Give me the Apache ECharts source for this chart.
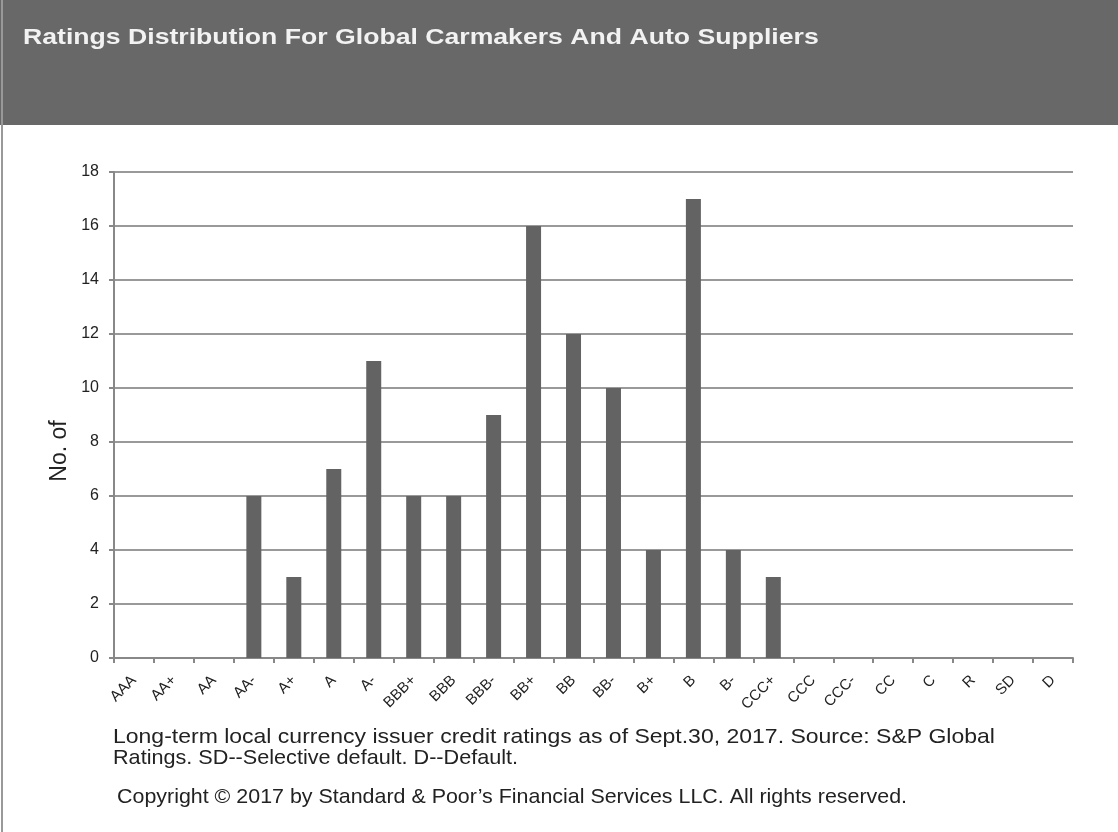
<!DOCTYPE html>
<html>
<head>
<meta charset="utf-8">
<script src="https://cdn.jsdelivr.net/npm/echarts@6/dist/echarts.min.js"></script>
<style>
html,body{margin:0;padding:0;background:#fff;}
#chart{width:1118px;height:832px;}
</style>
</head>
<body>
<div id="chart"></div>
<script>
const categories = ['AAA','AA+','AA','AA-','A+','A','A-','BBB+','BBB','BBB-','BB+','BB','BB-','B+','B','B-','CCC+','CCC','CCC-','CC','C','R','SD','D'];
const counts = [0,0,0,6,3,7,11,6,6,9,16,12,10,4,17,4,3,0,0,0,0,0,0,0];
const yTicks = {min:0, max:18, interval:2};
const titleText = 'Ratings Distribution For Global Carmakers And Auto Suppliers';
const yAxisName = 'No. of';
const noteLine1 = 'Long-term local currency issuer credit ratings as of Sept.30, 2017. Source: S&P Global';
const noteLine2 = 'Ratings. SD--Selective default. D--Default.';
const copyrightText = 'Copyright \u00A9 2017 by Standard & Poor\u2019s Financial Services LLC. All rights reserved.';

const chart = echarts.init(document.getElementById('chart'));
const font = 'Liberation Sans, Arial, sans-serif';
chart.setOption({
  backgroundColor:'#fff',
  animation:false,
  graphic:[
    {type:'rect', shape:{x:0,y:0,width:1118,height:125}, style:{fill:'#686868'}, z:0},
    {type:'line', shape:{x1:2,y1:0,x2:2,y2:832}, style:{stroke:'#999',lineWidth:2}, z:1},
    {type:'text', x:23, y:27, scaleX:1.21, style:{text:titleText, fill:'#f2f2f2', font:'bold 22px '+font}},
    {type:'text', x:113, y:727, scaleX:1.095, style:{text:noteLine1, fill:'#222', font:'21px '+font}},
    {type:'text', x:113, y:748, scaleX:1.03, style:{text:noteLine2, fill:'#222', font:'21px '+font}},
    {type:'text', x:117, y:787, scaleX:1.02, style:{text:copyrightText, fill:'#222', font:'21px '+font}},
    {type:'text', x:60, y:451, rotation:Math.PI/2, style:{text:yAxisName, fill:'#222', font:'23px '+font, textAlign:'center', textVerticalAlign:'middle'}}
  ],
  grid:{left:114, right:45, top:172, bottom:174, containLabel:false},
  xAxis:{
    type:'category',
    data:categories,
    axisLine:{lineStyle:{color:'#888', width:2}},
    axisTick:{show:true, alignWithLabel:false, length:5, lineStyle:{color:'#888', width:2}},
    axisLabel:{rotate:45, color:'#222', fontSize:15, fontFamily:font, margin:20, interval:0}
  },
  yAxis:{
    type:'value',
    min:yTicks.min, max:yTicks.max, interval:yTicks.interval,
    axisLine:{show:true, lineStyle:{color:'#888', width:2}},
    axisTick:{show:true, length:5, lineStyle:{color:'#888', width:2}},
    axisLabel:{color:'#222', fontSize:16, fontFamily:font, margin:15},
    splitLine:{lineStyle:{color:'#999', width:2}}
  },
  series:[{
    type:'bar',
    data:counts,
    barWidth:15,
    itemStyle:{color:'#636363'}
  }]
});
</script>
</body>
</html>
